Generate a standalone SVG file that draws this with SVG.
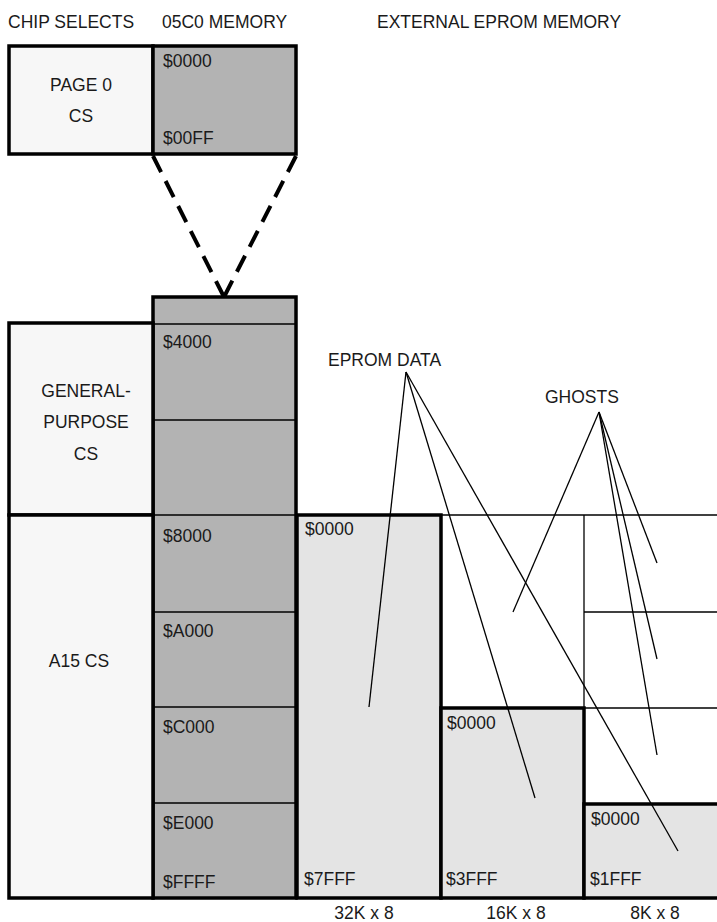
<svg xmlns="http://www.w3.org/2000/svg" width="717" height="922" viewBox="0 0 717 922">
<style>
text{font-family:"Liberation Sans",Arial,sans-serif;font-size:17.5px;fill:#1a1a1a}
.c{text-anchor:middle}
.cs{fill:#f7f7f7;stroke:#000;stroke-width:3.5}
.mem{fill:#b3b3b3;stroke:#000;stroke-width:3.5}
.ep{fill:#e4e4e4;stroke:#000;stroke-width:3.5}
.thin{stroke:#000;stroke-width:1.3;fill:none}
.dash{stroke:#000;stroke-width:4;stroke-dasharray:18 10;fill:none}
</style>
<rect width="717" height="922" fill="#fff"/>
<g id="headers">
<text x="8" y="28">CHIP SELECTS</text>
<text x="162" y="28">05C0 MEMORY</text>
<text x="377" y="28">EXTERNAL EPROM MEMORY</text>
</g>
<g id="page0-cs">
<rect class="cs" x="9" y="46" width="144" height="108"/>
<text class="c" x="81" y="91">PAGE 0</text>
<text class="c" x="81" y="122">CS</text>
</g>
<g id="page0-mem">
<rect class="mem" x="153" y="46" width="143" height="108"/>
<text x="163" y="67">$0000</text>
<text x="163" y="144">$00FF</text>
</g>
<g id="mem-column">
<rect class="mem" x="153" y="297" width="143" height="601"/>
<line class="thin" x1="153" y1="324" x2="296" y2="324"/>
<line class="thin" x1="153" y1="420" x2="296" y2="420"/>
<line class="thin" x1="153" y1="515" x2="296" y2="515"/>
<line class="thin" x1="153" y1="612" x2="296" y2="612"/>
<line class="thin" x1="153" y1="707" x2="296" y2="707"/>
<line class="thin" x1="153" y1="803" x2="296" y2="803"/>
<text x="163" y="348">$4000</text>
<text x="163" y="542">$8000</text>
<text x="163" y="637">$A000</text>
<text x="163" y="733">$C000</text>
<text x="163" y="829">$E000</text>
<text x="163" y="888">$FFFF</text>
</g>
<g id="gp-cs">
<rect class="cs" x="9" y="323" width="144" height="192"/>
<text class="c" x="86" y="397">GENERAL-</text>
<text class="c" x="86" y="428">PURPOSE</text>
<text class="c" x="86" y="460">CS</text>
</g>
<g id="a15-cs">
<rect class="cs" x="9" y="515" width="144" height="383"/>
<text class="c" x="79" y="667">A15 CS</text>
</g>
<g id="ghost-grid">
<line class="thin" x1="441" y1="515" x2="720" y2="515"/>
<line class="thin" x1="584" y1="515" x2="584" y2="804"/>
<line class="thin" x1="584" y1="612" x2="720" y2="612"/>
<line class="thin" x1="584" y1="708" x2="720" y2="708"/>
</g>
<g id="eprom-32k">
<rect class="ep" x="297" y="515" width="144" height="383"/>
<text x="305" y="535">$0000</text>
<text x="304" y="885">$7FFF</text>
<text class="c" x="364" y="919">32K x 8</text>
</g>
<g id="eprom-16k">
<rect class="ep" x="441" y="708" width="143" height="190"/>
<text x="447" y="729">$0000</text>
<text x="446" y="885">$3FFF</text>
<text class="c" x="516" y="919">16K x 8</text>
</g>
<g id="eprom-8k">
<rect class="ep" x="584" y="804" width="140" height="94"/>
<text x="591" y="825">$0000</text>
<text x="590" y="885">$1FFF</text>
<text class="c" x="655" y="919">8K x 8</text>
</g>
<g id="labels">
<text x="328" y="366">EPROM DATA</text>
<text x="545" y="403">GHOSTS</text>
</g>
<g id="connectors">
<line class="dash" x1="153" y1="156" x2="224" y2="297"/>
<line class="dash" x1="296" y1="156" x2="224" y2="297"/>
<line class="thin" x1="406" y1="372" x2="369" y2="707"/>
<line class="thin" x1="406" y1="372" x2="535" y2="798"/>
<line class="thin" x1="406" y1="372" x2="678" y2="851"/>
<line class="thin" x1="599" y1="412" x2="513" y2="612"/>
<line class="thin" x1="599" y1="412" x2="657" y2="563"/>
<line class="thin" x1="599" y1="412" x2="657" y2="659"/>
<line class="thin" x1="599" y1="412" x2="657" y2="755"/>
</g>
</svg>
